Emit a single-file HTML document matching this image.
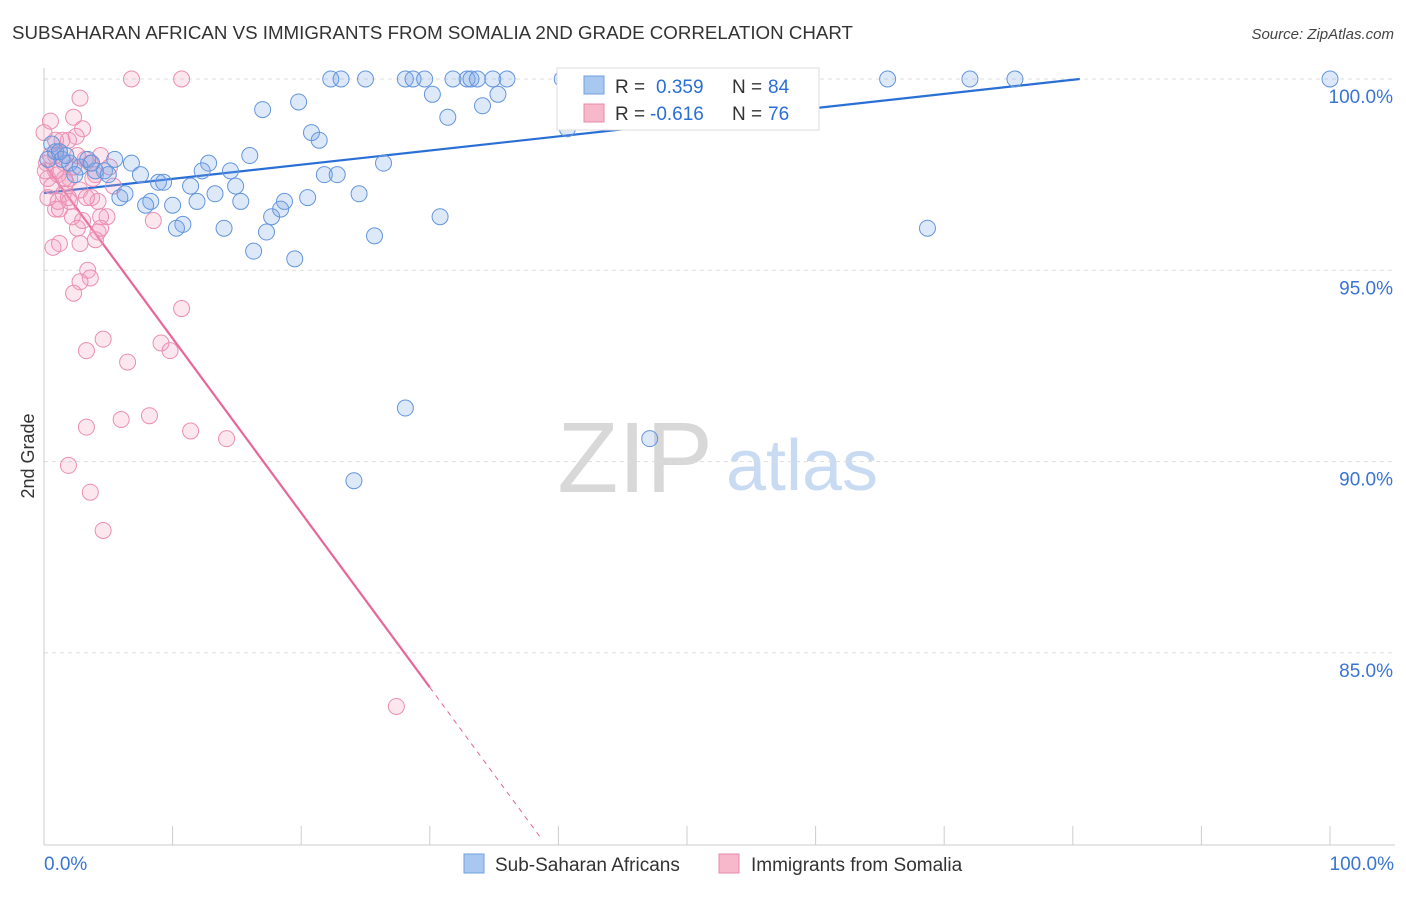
<!DOCTYPE html>
<html><head><meta charset="utf-8"><style>
body{margin:0;background:#fff;font-family:"Liberation Sans",sans-serif;}
svg text{font-family:"Liberation Sans",sans-serif;}
</style></head><body>
<svg id="chart" width="1406" height="892" viewBox="0 0 1406 892" xmlns="http://www.w3.org/2000/svg">
<text x="12" y="39" font-size="18" fill="#333" textLength="841" lengthAdjust="spacingAndGlyphs">SUBSAHARAN AFRICAN VS IMMIGRANTS FROM SOMALIA 2ND GRADE CORRELATION CHART</text>
<text x="1394" y="39" font-size="15" fill="#444" text-anchor="end" font-style="italic">Source: ZipAtlas.com</text>
<text transform="translate(34,456) rotate(-90)" font-size="18" fill="#333" text-anchor="middle">2nd Grade</text>
<g>
<text x="635" y="492" font-size="100" fill="#d8d8d8" font-family="Liberation Serif" text-anchor="middle">ZIP</text>
<text x="802" y="490" font-size="72" fill="#c9dbf3" text-anchor="middle">atlas</text>
</g>
<g id="grid"></g><g id="axes"></g><g id="lines"></g><g id="pts"></g>
<g>
<rect x="557" y="68" width="262" height="62" fill="#fff" stroke="#ddd"/>
<rect x="584" y="76" width="20" height="18" fill="#a9c8f0" stroke="#6f9fe0"/>
<rect x="584" y="104" width="20" height="18" fill="#f7b8cc" stroke="#e88aa9"/>
<text x="615" y="93" font-size="19" fill="#333">R =</text>
<text x="656" y="93" font-size="19" fill="#2a6fd6">0.359</text>
<text x="732" y="93" font-size="19" fill="#333">N =</text>
<text x="768" y="93" font-size="19" fill="#2a6fd6">84</text>
<text x="615" y="120" font-size="19" fill="#333">R =</text>
<text x="650" y="120" font-size="19" fill="#2a6fd6">-0.616</text>
<text x="732" y="120" font-size="19" fill="#333">N =</text>
<text x="768" y="120" font-size="19" fill="#2a6fd6">76</text>
</g>
<g>
<rect x="464" y="854" width="20" height="19" fill="#a9c8f0" stroke="#6f9fe0"/>
<text x="495" y="871" font-size="19" fill="#333">Sub-Saharan Africans</text>
<rect x="719" y="854" width="20" height="19" fill="#f7b8cc" stroke="#e88aa9"/>
<text x="751" y="871" font-size="19" fill="#333">Immigrants from Somalia</text>
</g>
</svg>
<script>
const yTicks=[100,95,90,85];
const yTickLabels=["100.0%","95.0%","90.0%","85.0%"];
const xEndLabels=["0.0%","100.0%"];
const blueX=[22.3,23.1,25.0,28.1,28.7,29.6,31.8,32.9,33.2,33.7,34.9,36.0,40.3,46.0,52.4,55.4,59.3,65.6,72.0,75.5,100,30.2,17.0,19.8,34.1,35.3,31.4,40.7,20.8,21.4,16.0,26.4,5.5,6.8,12.8,12.3,14.5,7.5,8.9,9.3,14.9,11.4,13.3,21.8,22.8,20.5,24.5,6.3,5.9,8.3,7.9,10.0,11.9,15.3,18.7,18.4,17.7,30.8,10.8,10.3,14.0,17.3,25.7,68.7,16.3,19.5,28.1,47.1,24.1,0.6,0.9,1.4,2.0,2.8,3.4,4.0,4.7,5.0,1.2,0.3,1.7,2.4,3.7];
const blueY=[100,100,100,100,100,100,100,100,100,100,100,100,100,100,100,100,100,100,100,100,100,99.6,99.2,99.4,99.3,99.6,99.0,98.7,98.6,98.4,98.0,97.8,97.9,97.8,97.8,97.6,97.6,97.5,97.3,97.3,97.2,97.2,97.0,97.5,97.5,96.9,97.0,97.0,96.9,96.8,96.7,96.7,96.8,96.8,96.8,96.6,96.4,96.4,96.2,96.1,96.1,96.0,95.9,96.1,95.5,95.3,91.4,90.6,89.5,98.3,98.1,97.9,97.8,97.7,97.9,97.6,97.6,97.5,98.1,97.9,98.0,97.5,97.8];
const pinkX=[6.8,10.7,2.8,2.3,3.0,2.5,1.9,0.9,1.2,0.5,4.4,1.6,3.2,3.6,0.9,0.3,2.0,3.8,5.4,2.8,1.5,1.9,3.7,4.2,0.9,4.9,2.2,8.5,3.0,2.6,4.2,4.0,2.8,1.2,3.4,3.6,2.8,2.3,10.7,4.6,9.1,9.8,3.3,6.5,8.2,6.0,3.3,11.4,14.2,1.9,3.6,4.6,27.4,0.2,0.6,1.1,1.7,2.3,0,0.5,4.0,5.1,1.2,3.3,2.0,1.4,0.9,2.6,4.4,0.3,0.7,0.1,4.4,1.6,1.1];
const pinkY=[100,100,99.5,99.0,98.7,98.5,98.4,98.4,98.1,98.0,98.0,97.8,97.9,97.8,97.6,97.4,97.4,97.4,97.2,97.1,97.0,96.9,96.9,96.8,96.6,96.4,96.4,96.3,96.3,96.1,96.0,95.8,95.7,95.7,95.0,94.8,94.7,94.4,94.0,93.2,93.1,92.9,92.9,92.6,91.2,91.1,90.9,90.8,90.6,89.9,89.2,88.2,83.6,97.8,97.2,97.5,97.3,97.7,98.6,98.9,97.5,97.7,96.6,96.9,96.8,98.4,98.0,98.0,96.1,96.9,95.6,97.6,96.4,97.4,96.8];
const blueTrend=[97.02,0.037];
const pinkTrend=[97.78,-0.456];
const NS="http://www.w3.org/2000/svg";
const sx=v=>44+v*12.86, sy=v=>79+(100-v)*38.26;
function mk(t,parent,attrs){const e=document.createElementNS(NS,t);for(const k in attrs)e.setAttribute(k,attrs[k]);document.getElementById(parent).appendChild(e);return e;}
yTicks.forEach((t,i)=>{
 const l=mk('line','grid',{x1:44,x2:1395,y1:sy(t),y2:sy(t),stroke:'#ddd','stroke-dasharray':'4,4'});
 
 
 const tx=mk('text','axes',{x:1393,y:sy(t)+24,'font-size':19,fill:'#3a74d4','text-anchor':'end'});tx.textContent=yTickLabels[i];
 
 
});
const ax=mk('line','axes',{x1:44,x2:44,y1:68,y2:845,stroke:'#ccc'});


const bx=mk('line','axes',{x1:44,x2:1395,y1:845,y2:845,stroke:'#ccc'});


for(let i=0;i<=10;i++){const t=mk('line','axes',{x1:sx(i*10),x2:sx(i*10),y1:826,y2:845,stroke:'#ccc'});
 
 }
[[0,'start'],[100,'end']].forEach((p,i)=>{const t=mk('text','axes',{x:i?1394:44,y:870,'font-size':19,fill:'#3a74d4','text-anchor':p[1]});t.textContent=xEndLabels[i];
 
 });
const bEnd=(100-blueTrend[0])/blueTrend[1];
const bl=mk('line','lines',{x1:sx(0),y1:sy(blueTrend[0]),x2:sx(bEnd),y2:sy(100),stroke:'#2a6fd6','stroke-width':2.2});


const pl=mk('line','lines',{x1:sx(0),y1:sy(pinkTrend[0]),x2:sx(30),y2:sy(pinkTrend[0]+pinkTrend[1]*30),stroke:'#e8669a','stroke-width':2.2});


const pd=mk('line','lines',{x1:sx(30),y1:sy(pinkTrend[0]+pinkTrend[1]*30),x2:sx(38.6),y2:sy(pinkTrend[0]+pinkTrend[1]*38.6),stroke:'#e8669a','stroke-width':1,'stroke-dasharray':'5,5'});


pinkX.forEach((x,i)=>{const c=mk('circle','pts',{cx:sx(x),cy:sy(pinkY[i]),r:8,fill:'rgba(244,160,190,0.25)',stroke:'#eb8fb0','stroke-width':1});
 
 });
blueX.forEach((x,i)=>{const c=mk('circle','pts',{cx:sx(x),cy:sy(blueY[i]),r:8,fill:'rgba(120,165,230,0.25)',stroke:'#6496dc','stroke-width':1});
 
 });
</script>
</body></html>
